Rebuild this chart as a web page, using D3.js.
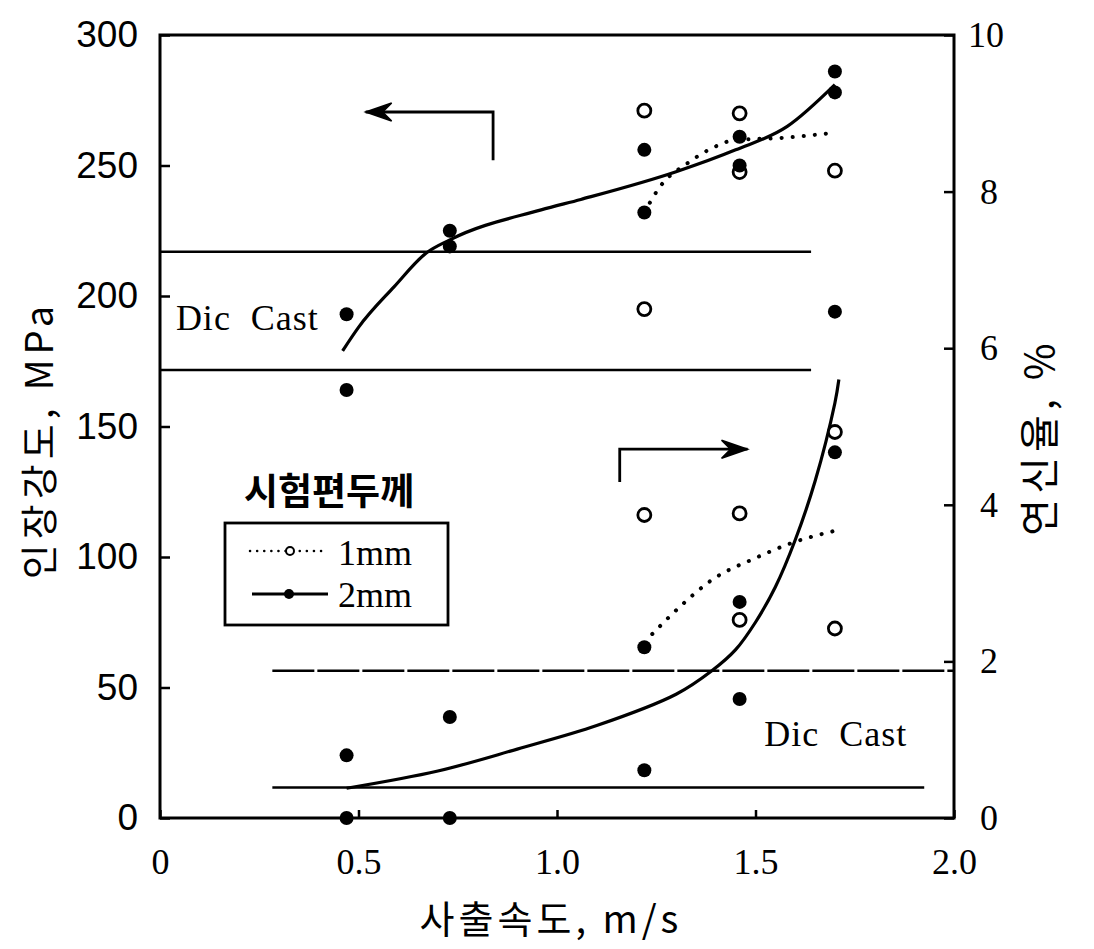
<!DOCTYPE html>
<html>
<head>
<meta charset="utf-8">
<script src="https://cdn.jsdelivr.net/npm/d3@7"></script>
<style>
  body { margin: 0; background: #fff; }
  svg { display: block; }
</style>
</head>
<body>
<div id="chart"></div>
<script>
// tick labels
var xTicks = [0, 0.5, 1.0, 1.5, 2.0];
var leftTicks = [0, 50, 100, 150, 200, 250, 300];
var rightTicks = [0, 2, 4, 6, 8, 10];

// measured points: tensile strength (MPa)
var tensile2mm = [[0.47, 193], [0.47, 164], [0.73, 225], [0.73, 219], [1.22, 256], [1.22, 232],
                  [1.46, 261], [1.46, 250], [1.70, 286], [1.70, 278], [1.70, 194]];
var tensile1mm = [[1.22, 271], [1.22, 195], [1.46, 270], [1.46, 247.5], [1.70, 248]];

// measured points: elongation (%)
var elong2mm = [[0.47, 0.80], [0.47, 0.0], [0.73, 1.29], [0.73, 0.0], [1.22, 2.18], [1.22, 0.61],
                [1.46, 2.76], [1.46, 1.52], [1.70, 4.67]];
var elong1mm = [[1.22, 3.87], [1.46, 3.89], [1.46, 2.53], [1.70, 4.93], [1.70, 2.42]];

// trend curves
var tensileCurve2mm = [[0.46, 179], [0.50, 188], [0.59, 203.6], [0.67, 216.4], [0.73, 221.5],
                       [0.96, 233], [1.06, 237], [1.30, 247.6], [1.45, 256], [1.58, 265], [1.70, 281]];
var tensileCurve1mm = [[1.22, 232], [1.26, 242], [1.33, 251], [1.39, 256.6], [1.45, 259.8],
                       [1.56, 260.5], [1.70, 262.6]];
var elongCurve2mm = [[0.47, 0.38], [0.70, 0.60], [0.90, 0.88], [1.10, 1.18], [1.30, 1.58],
                     [1.39, 1.88], [1.45, 2.15], [1.50, 2.50], [1.55, 2.95], [1.60, 3.55],
                     [1.65, 4.3], [1.70, 5.3], [1.71, 5.6]];
var elongCurve1mm = [[1.24, 2.35], [1.31, 2.70], [1.39, 3.04], [1.50, 3.32], [1.59, 3.51], [1.71, 3.68]];

// die cast reference levels
var tensileDieCast = [217, 171.6];       // from 0 to 1.64
var elongDieCast = [1.88, 0.39];         // dashed / solid

var svg = d3.select("#chart").append("svg")
    .attr("width", 1094)
    .attr("height", 949);

svg.append("rect").attr("width", 1094).attr("height", 949).attr("fill", "#fff");

var x = d3.scaleLinear().domain([0, 2]).range([160, 954]);
var yL = d3.scaleLinear().domain([0, 300]).range([818, 35]);
var yR = d3.scaleLinear().domain([0, 10]).range([818, 35]);

var serif = "'Liberation Serif', 'Times New Roman', serif";
var sans = "'Liberation Sans', Arial, sans-serif";
var kr = "'Noto Sans CJK KR', sans-serif";

// axes
var gl = svg.append("g").attr("transform", "translate(" + x(0) + ",0)")
    .call(d3.axisLeft(yL).tickValues(leftTicks).tickSize(-10).tickPadding(22));
var gr = svg.append("g").attr("transform", "translate(" + x(2) + ",0)")
    .call(d3.axisRight(yR).tickValues(rightTicks).tickSize(-10).tickPadding(26));
var gb = svg.append("g").attr("transform", "translate(0," + yL(0) + ")")
    .call(d3.axisBottom(x).tickValues(xTicks).tickSize(-8).tickPadding(30).tickFormat(d3.format(".1f")));
gb.selectAll(".tick text").text(d => d === 0 ? "0" : d3.format(".1f")(d));

[gl, gr, gb].forEach(g => {
    g.select(".domain").remove();
    g.selectAll(".tick line").attr("stroke", "#000").attr("stroke-width", 2.5);
    g.selectAll(".tick text").attr("fill", "#000");
});
gl.selectAll(".tick text").attr("font-family", sans).attr("font-size", 37);
gr.selectAll(".tick text").attr("font-family", serif).attr("font-size", 36);
gr.selectAll(".tick text").filter(d => d === 10).attr("x", 14);
gb.selectAll(".tick text").attr("font-family", serif).attr("font-size", 36);

// frame
svg.append("rect")
    .attr("x", x(0)).attr("y", yL(300))
    .attr("width", x(2) - x(0)).attr("height", yL(0) - yL(300))
    .attr("fill", "none").attr("stroke", "#000").attr("stroke-width", 3);

// axis titles
svg.append("text")
    .attr("transform", "translate(53,440) rotate(-90)")
    .attr("text-anchor", "middle")
    .attr("font-family", kr).attr("font-size", 38).attr("letter-spacing", 5)
    .text("인장강도, MPa");
svg.append("text")
    .attr("x", 551).attr("y", 933)
    .attr("text-anchor", "middle")
    .attr("font-family", kr).attr("font-size", 38).attr("letter-spacing", 4)
    .text("사출속도, m/s");
svg.append("text")
    .attr("transform", "translate(1054,437) rotate(-90)")
    .attr("text-anchor", "middle")
    .attr("font-family", kr).attr("font-size", 40).attr("letter-spacing", 5)
    .text("연신율, %");

// die cast reference lines
svg.selectAll(".dcT").data(tensileDieCast).enter().append("line")
    .attr("x1", x(0)).attr("x2", x(1.64))
    .attr("y1", d => yL(d)).attr("y2", d => yL(d))
    .attr("stroke", "#000").attr("stroke-width", 2.5);
svg.selectAll(".dcE").data(elongDieCast).enter().append("line")
    .attr("x1", x(0.283)).attr("x2", (d, i) => i === 0 ? x(2) : x(1.925))
    .attr("y1", d => yR(d)).attr("y2", d => yR(d))
    .attr("stroke", "#000").attr("stroke-width", 2.5)
    .attr("stroke-dasharray", (d, i) => i === 0 ? "42,3" : null);

svg.append("text").attr("x", x(0.04)).attr("y", yL(187))
    .attr("font-family", serif).attr("font-size", 36).attr("letter-spacing", 1)
    .attr("xml:space", "preserve")
    .text("Dic  Cast");
svg.append("text").attr("x", x(1.522)).attr("y", yR(0.92))
    .attr("font-family", serif).attr("font-size", 36).attr("letter-spacing", 1)
    .attr("xml:space", "preserve")
    .text("Dic  Cast");

// curves
var lineL = d3.line().x(d => x(d[0])).y(d => yL(d[1])).curve(d3.curveMonotoneX);
var lineR = d3.line().x(d => x(d[0])).y(d => yR(d[1])).curve(d3.curveCatmullRom.alpha(0.5));
var lineRm = d3.line().x(d => x(d[0])).y(d => yR(d[1])).curve(d3.curveMonotoneX);

svg.append("path").attr("d", lineL(tensileCurve2mm))
    .attr("fill", "none").attr("stroke", "#000").attr("stroke-width", 3.2);
svg.append("path").attr("d", lineR(elongCurve2mm))
    .attr("fill", "none").attr("stroke", "#000").attr("stroke-width", 3.2);
svg.append("path").attr("d", lineL(tensileCurve1mm))
    .attr("fill", "none").attr("stroke", "#000").attr("stroke-width", 4)
    .attr("stroke-linecap", "round").attr("stroke-dasharray", "0.1,11");
svg.append("path").attr("d", lineRm(elongCurve1mm))
    .attr("fill", "none").attr("stroke", "#000").attr("stroke-width", 4)
    .attr("stroke-linecap", "round").attr("stroke-dasharray", "0.1,11");

// points
function filled(data, y) {
    svg.append("g").selectAll("circle").data(data).enter().append("circle")
        .attr("cx", d => x(d[0])).attr("cy", d => y(d[1])).attr("r", 7)
        .attr("fill", "#000");
}
function open(data, y) {
    svg.append("g").selectAll("circle").data(data).enter().append("circle")
        .attr("cx", d => x(d[0])).attr("cy", d => y(d[1])).attr("r", 6.5)
        .attr("fill", "#fff").attr("stroke", "#000").attr("stroke-width", 2.8);
}
open(tensile1mm, yL);
filled(tensile2mm, yL);
open(elong1mm, yR);
filled(elong2mm, yR);

// direction arrows
function arrow(x0, yTop, yBot, xTip, dir) {
    svg.append("path")
        .attr("d", "M" + x0 + "," + yBot + "V" + yTop + "H" + xTip)
        .attr("fill", "none").attr("stroke", "#000").attr("stroke-width", 2.8);
    svg.append("path")
        .attr("d", "M" + xTip + "," + yTop +
            "L" + (xTip - dir * 26) + "," + (yTop - 9) +
            "L" + (xTip - dir * 17) + "," + yTop +
            "L" + (xTip - dir * 26) + "," + (yTop + 9) + "Z")
        .attr("fill", "#000").attr("stroke", "#000").attr("stroke-width", 1.5);
}
arrow(x(0.839), yL(270.5), yL(252), x(0.518), -1);
arrow(x(1.158), yR(4.71), yR(4.29), x(1.48), 1);

// legend
var lg = svg.append("g");
lg.append("text").attr("x", 244).attr("y", 505)
    .attr("font-family", kr).attr("font-size", 37).attr("font-weight", 700)
    .text("시험편두께");
lg.append("rect").attr("x", 225).attr("y", 523).attr("width", 223).attr("height", 102)
    .attr("fill", "#fff").attr("stroke", "#000").attr("stroke-width", 2.8);
lg.append("line").attr("x1", 250).attr("x2", 326).attr("y1", 551).attr("y2", 551)
    .attr("stroke", "#000").attr("stroke-width", 2.5)
    .attr("stroke-linecap", "round").attr("stroke-dasharray", "0.1,7");
lg.append("circle").attr("cx", 290).attr("cy", 551).attr("r", 4)
    .attr("fill", "#fff").attr("stroke", "#000").attr("stroke-width", 2);
lg.append("line").attr("x1", 252).attr("x2", 328).attr("y1", 594).attr("y2", 594)
    .attr("stroke", "#000").attr("stroke-width", 3);
lg.append("circle").attr("cx", 289).attr("cy", 594).attr("r", 5).attr("fill", "#000");
lg.append("text").attr("x", 338).attr("y", 565)
    .attr("font-family", serif).attr("font-size", 36).text("1mm");
lg.append("text").attr("x", 338).attr("y", 607)
    .attr("font-family", serif).attr("font-size", 36).text("2mm");
</script>
</body>
</html>
